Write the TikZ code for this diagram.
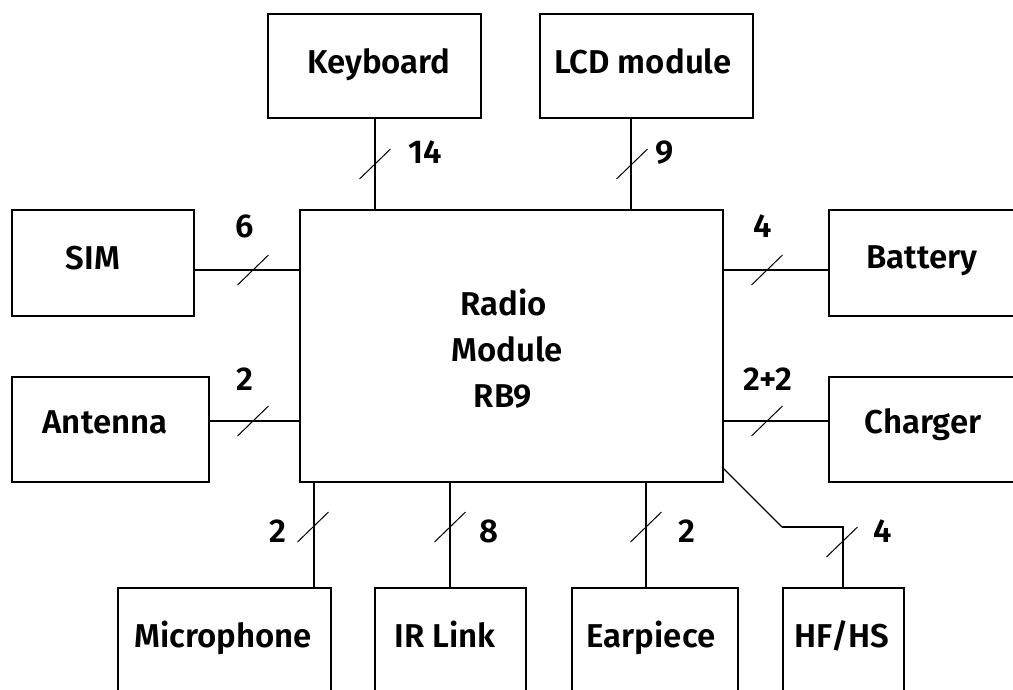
\documentclass[tikz,border=0pt]{standalone}
\usepackage{fontspec}
\setmainfont{Fira Sans}[BoldFont={Fira Sans SemiBold}]
\usetikzlibrary{calc}
\begin{document}
\begin{tikzpicture}[x=1pt,y=-1pt,
  box/.style={draw,line width=2pt,anchor=north west,inner sep=0pt},
  txt/.style={font=\fontsize{33}{46}\selectfont\bfseries,inner sep=0pt,anchor=base},
  conn/.style={line width=2pt},
  thinconn/.style={line width=1.3pt},
  slash/.style={line width=1pt}]
\useasboundingbox (0,0) rectangle (1013,689);
% boxes
\node[box,minimum width=213pt,minimum height=104pt] (kb) at (267,13) {};
\node[box,minimum width=213pt,minimum height=104pt] (lcd) at (539,13) {};
\node[box,minimum width=182pt,minimum height=106pt] (sim) at (11,209) {};
\node[box,minimum width=197pt,minimum height=105pt] (ant) at (11,376) {};
\node[box,minimum width=423pt,minimum height=272pt] (radio) at (299,209) {};
\node[box,minimum width=200pt,minimum height=106pt] (bat) at (828,209) {};
\node[box,minimum width=200pt,minimum height=105pt] (chg) at (828,376) {};
\node[box,minimum width=213pt,minimum height=150pt] (mic) at (117,587) {};
\node[box,minimum width=151pt,minimum height=150pt] (ir) at (374,587) {};
\node[box,minimum width=166pt,minimum height=150pt] (ear) at (571,587) {};
\node[box,minimum width=121pt,minimum height=150pt] (hf) at (782,587) {};
% box texts
\node[txt] (kbt) at (379,73) {Keyboard};
\node[txt] (lcdt) at (643,73) {LCD module};
\node[txt] (simt) at (93,269) {SIM};
\node[txt] (antt) at (105,433) {Antenna};
\node[txt] (batt) at (922,268) {Battery};
\node[txt] (chgt) at (923,433) {Charger};
\node[txt] (mict) at (223,647) {Microphone};
\node[txt] (irt) at (445,647) {IR Link};
\node[txt] (eart) at (651,647) {Earpiece};
\node[txt] (hft) at (842,647) {HF/HS};
\node[txt] (radiot1) at (504,315) {Radio};
\node[txt] (radiot2) at (507,361) {Module};
\node[txt] (radiot3) at (503,407) {RB9};
% helper coordinates
\coordinate (lcdx) at (631,0);
\coordinate (simy) at (0,270);
\coordinate (anty) at (0,421);
\coordinate (micx) at (314,0);
\coordinate (irx) at (450,0);
\coordinate (earx) at (646,0);
\coordinate (hfa) at (722,467);
\coordinate (hfb) at (782,527);
\coordinate (hfc) at (843,527);
\coordinate (hfx) at (843,0);
% connectors
\draw[conn] (kb.south) -- (kb.south |- radio.north);
\draw[conn] (lcd.south -| lcdx) -- (radio.north -| lcdx);
\draw[conn] (sim.east |- simy) -- (radio.west |- simy);
\draw[conn] (ant.east |- anty) -- (radio.west |- anty);
\draw[conn] (radio.east |- simy) -- (bat.west |- simy);
\draw[conn] (radio.east |- anty) -- (chg.west |- anty);
\draw[conn] (radio.south -| micx) -- (mic.north -| micx);
\draw[conn] (radio.south -| irx) -- (ir.north -| irx);
\draw[conn] (radio.south -| earx) -- (ear.north -| earx);
\draw[thinconn] (hfa) -- (hfb);
\draw[conn] (hfb) -- (hfc) -- (hf.north -| hfx);
% bus marks
\foreach \p in {(375,164),(632,164),(253,270),(253,421),(767,270),(767,421),(313,527),(450,527),(646,527),(842,542)}
  \draw[slash] \p ++(-15.5,15) -- ++(31,-30);
% bus widths
\node[txt] (n14) at (425,163) {14};
\node[txt] (n9) at (665,163) {9};
\node[txt] (n6) at (245,237) {6};
\node[txt] (n2a) at (245,390) {2};
\node[txt] (n4a) at (763,237) {4};
\node[txt] (n22) at (768,390) {2+2};
\node[txt] (n2m) at (278,542) {2};
\node[txt] (n8) at (489,542) {8};
\node[txt] (n2e) at (687,542) {2};
\node[txt] (n4h) at (883,542) {4};
\end{tikzpicture}
\end{document}
